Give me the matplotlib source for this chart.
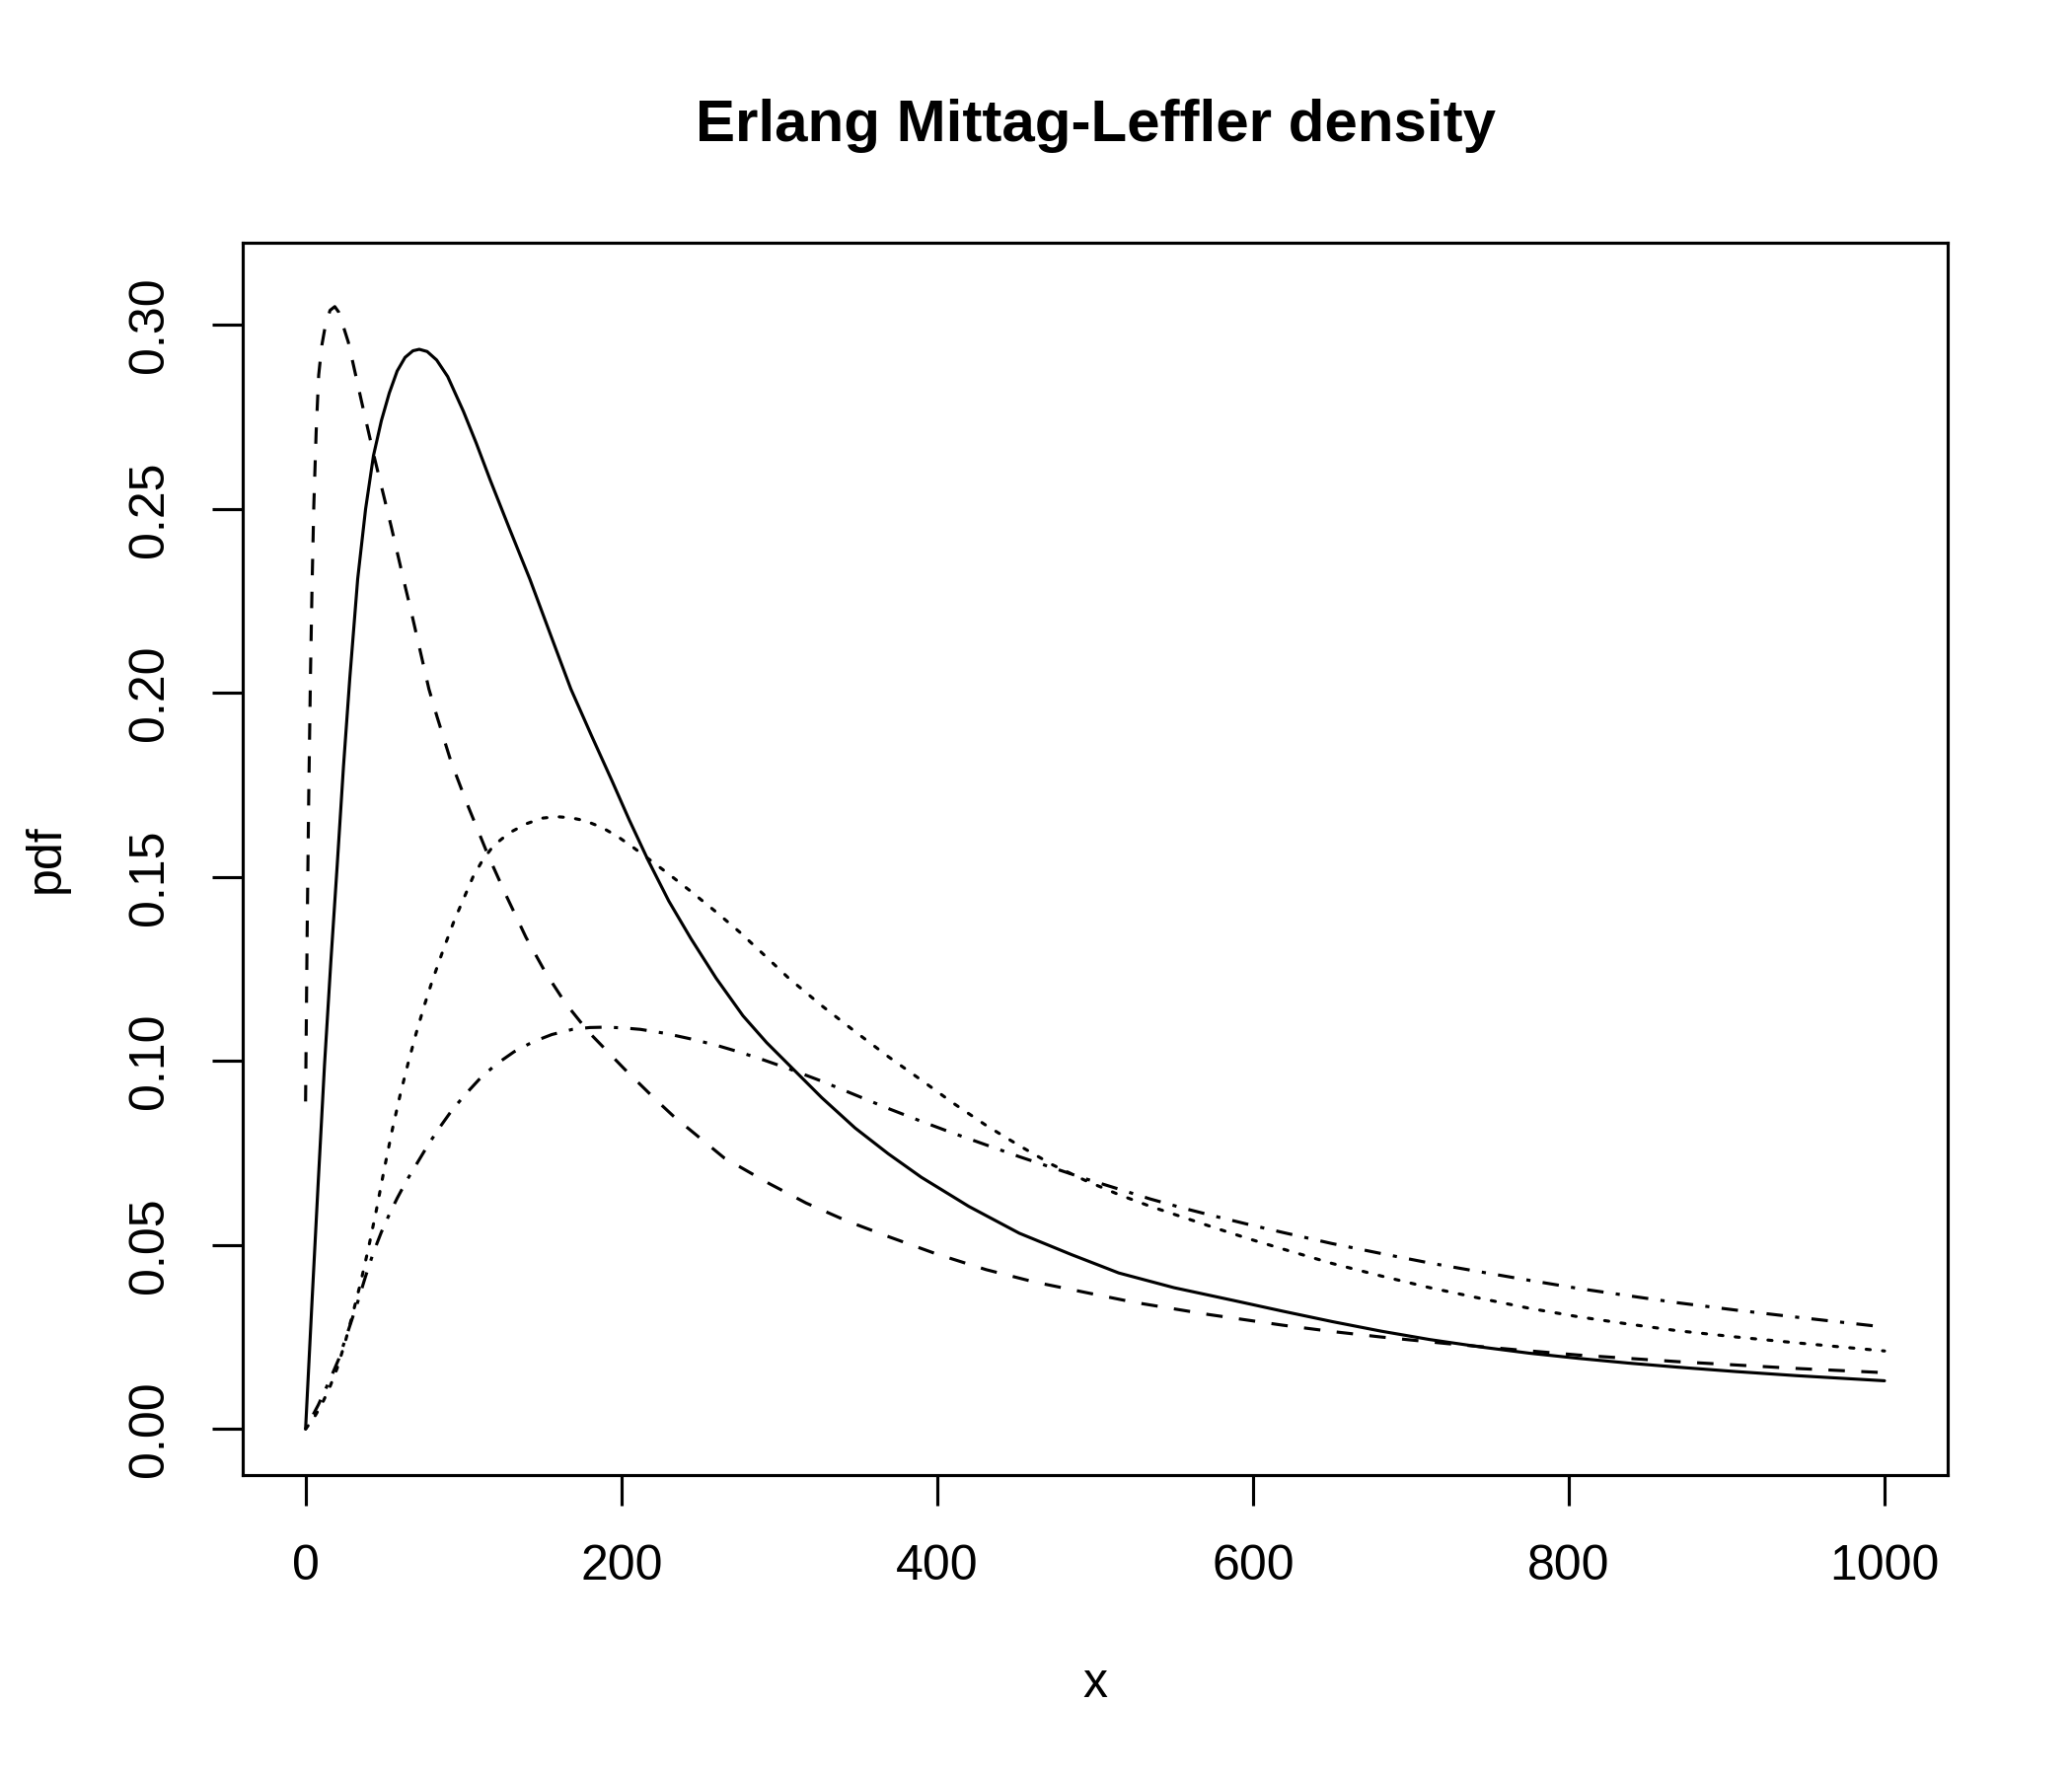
import matplotlib
matplotlib.use("Agg")
import matplotlib.pyplot as plt

plt.rcParams['font.family'] = ['Liberation Sans', 'DejaVu Sans']
plt.rcParams['lines.scale_dashes'] = False

# values
solid_x = [0, 4, 8, 12, 16, 20, 24, 28, 33, 38, 43, 48, 53, 58, 63, 68, 72, 77,
           83, 90, 100, 108, 117, 129, 142, 155, 168, 181, 194, 205, 217, 230,
           244, 260, 277, 292, 306, 327, 348, 369, 390, 420, 452, 485, 515, 550,
           588, 619, 650, 681, 712, 744, 775, 806, 838, 869, 906, 944, 1000]
solid_y = [0, 0.034, 0.067, 0.099, 0.127, 0.153, 0.180, 0.204, 0.231, 0.250,
           0.2645, 0.274, 0.2815, 0.2875, 0.2912, 0.2930, 0.2934, 0.2928, 0.2905,
           0.2860, 0.2765, 0.2680, 0.2578, 0.2448, 0.2310, 0.2160, 0.2011, 0.1885,
           0.1762, 0.1655, 0.1545, 0.1435, 0.1333, 0.1225, 0.1123, 0.1050, 0.0990,
           0.0900, 0.0818, 0.0748, 0.0684, 0.0605, 0.0532, 0.0474, 0.0424, 0.0384,
           0.0349, 0.0320, 0.0292, 0.0266, 0.0243, 0.0223, 0.0206, 0.0192, 0.0179,
           0.0168, 0.0156, 0.0145, 0.0131]

dashed_x = [0, 1, 2, 3.1, 4.1, 5.2, 6.7, 8.3, 10.3, 12.5, 15.5, 18.5, 21, 24, 27.1,
            35.4, 43.3, 54.2, 62.5, 66.7, 78.1, 83.3, 92, 102, 115.6, 127, 139.6,
            152, 164.6, 179, 202, 222, 233, 265, 294, 306, 317, 343, 369, 400, 431,
            462, 494, 525, 572, 619, 650, 681, 723, 765, 806, 869, 942, 1000]
dashed_y = [0.089, 0.135, 0.172, 0.205, 0.229, 0.2507, 0.271, 0.2864, 0.2945,
            0.2998, 0.3040, 0.3050, 0.3035, 0.2995, 0.2953, 0.2793, 0.2645, 0.2453,
            0.2300, 0.2225, 0.2011, 0.1935, 0.1815, 0.1702, 0.1559, 0.1450, 0.1336,
            0.1240, 0.1157, 0.1080, 0.0978, 0.0894, 0.0850, 0.0737, 0.0666, 0.0639,
            0.0614, 0.0565, 0.0523, 0.0475, 0.0433, 0.0399, 0.0371, 0.0344, 0.0311,
            0.0282, 0.0265, 0.0250, 0.0232, 0.0216, 0.0201, 0.0183, 0.0165, 0.0153]

dotted_x = [0, 5, 10, 15, 20, 25, 30, 35, 40, 44.8, 50, 55, 60, 65, 70, 75, 80, 87,
            94, 100, 106, 112, 119, 129, 140, 150, 159, 168, 177, 188, 198, 207, 217,
            230, 244, 260, 275, 290, 306, 327, 348, 369, 390, 410, 431, 452, 473,
            494, 515, 535, 556, 577, 598, 619, 650, 681, 712, 744, 775, 806, 838,
            869, 906, 942, 1000]
dotted_y = [0, 0.0028, 0.0065, 0.0110, 0.0165, 0.0235, 0.0315, 0.0400, 0.0495,
            0.0594, 0.0710, 0.0815, 0.0910, 0.0995, 0.1075, 0.1148, 0.1215, 0.1300,
            0.1380, 0.1440, 0.1500, 0.1545, 0.1585, 0.1620, 0.1645, 0.1660, 0.1664,
            0.1661, 0.1653, 0.1634, 0.1609, 0.1582, 0.1550, 0.1508, 0.1461, 0.1405,
            0.1350, 0.1290, 0.1225, 0.1150, 0.1080, 0.1012, 0.0948, 0.0886, 0.0825,
            0.0770, 0.0718, 0.0675, 0.0637, 0.0605, 0.0575, 0.0545, 0.0516, 0.0489,
            0.0450, 0.0416, 0.0384, 0.0355, 0.0328, 0.0305, 0.0285, 0.0267, 0.0250,
            0.0235, 0.0212]

dashdot_x = [0, 8, 15, 21, 28, 33, 38, 43, 48, 53, 58, 64, 71, 78, 85, 93, 102,
             111, 121, 132, 144, 156, 169, 180, 190, 201, 212, 228, 244, 260, 275,
             290, 306, 327, 348, 369, 390, 410, 431, 452, 473, 494, 515, 535, 556,
             577, 598, 619, 650, 681, 712, 744, 775, 806, 838, 869, 906, 942, 1000]
dashdot_y = [0, 0.0065, 0.013, 0.019, 0.028, 0.0345, 0.0415, 0.0480, 0.0535,
             0.0583, 0.0627, 0.0675, 0.0725, 0.0775, 0.0820, 0.0868, 0.0913, 0.0955,
             0.0992, 0.1025, 0.1052, 0.1072, 0.1086, 0.1091, 0.1092, 0.1090, 0.1086,
             0.1075, 0.1060, 0.1043, 0.1024, 0.1003, 0.0979, 0.0945, 0.0908, 0.0871,
             0.0836, 0.0804, 0.0772, 0.0740, 0.0710, 0.0680, 0.0652, 0.0625, 0.0600,
             0.0577, 0.0555, 0.0534, 0.0504, 0.0477, 0.0451, 0.0427, 0.0404, 0.0382,
             0.0362, 0.0343, 0.0323, 0.0305, 0.0277]

x_ticks = [0, 200, 400, 600, 800, 1000]
y_ticks = [0.00, 0.05, 0.10, 0.15, 0.20, 0.25, 0.30]

fig = plt.figure(figsize=(7, 6), dpi=300)
ax = fig.add_axes([0.117, 0.1697, 0.823, 0.6937])

lw = 0.75
ax.plot(solid_x, solid_y, color='black', lw=lw, solid_capstyle='round',
        solid_joinstyle='round')
ax.plot(dashed_x, dashed_y, color='black', lw=lw, dashes=(4, 4), dash_capstyle='butt')
ax.plot(dotted_x, dotted_y, color='black', lw=lw, dashes=(1, 3), dash_capstyle='round')
ax.plot(dashdot_x, dashdot_y, color='black', lw=lw, dashes=(1, 3, 4, 3), dash_capstyle='butt')

ax.set_xlim(-40, 1040)
ax.set_ylim(-0.0124, 0.3224)
ax.set_xticks(x_ticks)
ax.set_xticklabels([str(t) for t in x_ticks])
ax.set_yticks(y_ticks)
ax.set_yticklabels(['%.2f' % t for t in y_ticks], rotation=90, va='center')
ax.tick_params(direction='out', length=7.4, width=0.75, labelsize=12, pad=9.5)
for s in ax.spines.values():
    s.set_linewidth(0.75)

fig.text(0.5286, 0.9294, 'Erlang Mittag-Leffler density', ha='center', va='center',
         fontsize=14.4, fontweight='bold')
fig.text(0.5286, 0.0517, 'x', ha='center', va='center', fontsize=12)
fig.text(0.0223, 0.5167, 'pdf', ha='center', va='center', fontsize=12, rotation=90)

fig.savefig('out.png', dpi=300)
